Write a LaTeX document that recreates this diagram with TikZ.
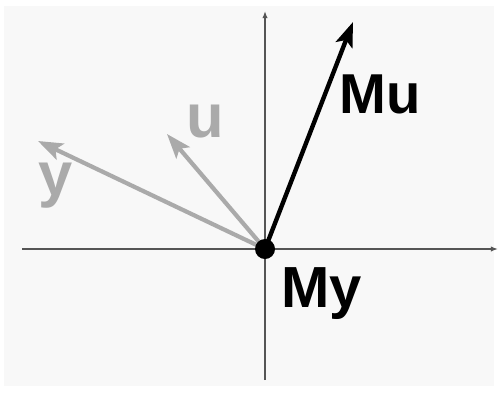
\documentclass[tikz,border=0pt]{standalone}
\usepackage{fontspec}
\setmainfont{Liberation Sans}
\usepackage{xcolor}
\usetikzlibrary{arrows.meta}
\definecolor{mygray}{RGB}{170,170,170}
\definecolor{myaxis}{RGB}{85,85,85}
\definecolor{mybg}{RGB}{248,248,248}

\begin{document}
\begin{tikzpicture}[x=0.02cm, y=-0.02cm]
  \useasboundingbox (0,0) rectangle (499,403);
  \fill[mybg] (4,6) rectangle (494,386);

  \coordinate (O) at (265,249);
  \coordinate (xl) at (22,249);
  \coordinate (xr) at (498,249);
  \coordinate (yb) at (265,380);
  \coordinate (yt) at (265,11);
  \coordinate (Mu) at (353,22);
  \coordinate (u) at (167,134);
  \coordinate (y) at (38,141);

  \draw[myaxis, line width=1pt, -{Latex[length=4pt,width=3pt]}] (xl) -- (xr);
  \draw[myaxis, line width=1pt, -{Latex[length=4pt,width=3pt]}] (yb) -- (yt);

  \draw[mygray, line width=2.4pt, -{Stealth[length=14pt,width=10pt,inset=3pt]}] (O) -- (y);
  \draw[mygray, line width=2.4pt, -{Stealth[length=14pt,width=10pt,inset=3pt]}] (O) -- (u);
  \draw[black, line width=2.5pt, -{Stealth[length=14pt,width=10pt,inset=3pt]}] (O) -- (Mu);
  \fill (O) circle (10);

  \node[black, anchor=base west, inner sep=0pt, font=\bfseries\fontsize{32}{38}\selectfont] (lMu) at (339,113) {Mu};
  \node[black, anchor=base west, inner sep=0pt, font=\bfseries\fontsize{33}{40}\selectfont] (lMy) at (281,307) {My};
  \node[mygray, anchor=base west, inner sep=0pt, font=\bfseries\fontsize{35}{42}\selectfont] (lu) at (186,137) {u};
  \node[mygray, anchor=base west, inner sep=0pt, font=\bfseries\fontsize{35}{42}\selectfont] (ly) at (38,195) {y};
\end{tikzpicture}
\end{document}
